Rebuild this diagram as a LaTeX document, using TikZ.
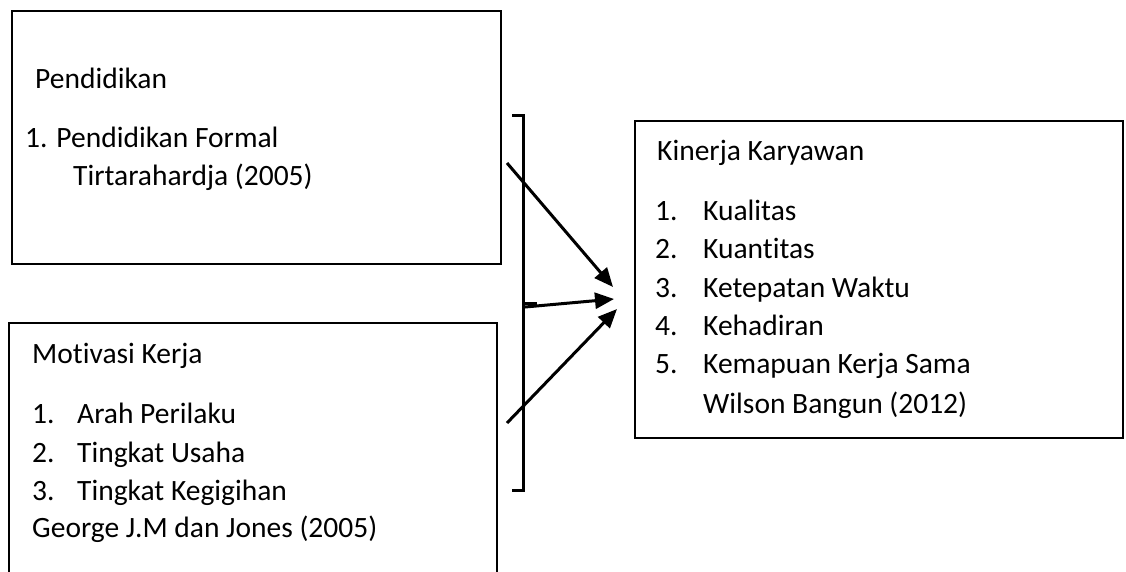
\documentclass[tikz,border=0pt]{standalone}
\usepackage{fontspec}
\setmainfont{Carlito}[Ligatures={NoCommon}]
\usetikzlibrary{arrows.meta}
\tikzset{
  box/.style={draw=black, line width=2.2pt, rectangle, inner sep=0pt},
  txt/.style={anchor=base west, inner sep=0pt, font=\fontsize{29.5}{38.5}\selectfont},
  conn/.style={line width=3pt, -{Triangle[length=19pt, width=16pt]}},
  brk/.style={line width=3pt}
}
\begin{document}
\begin{tikzpicture}[x=1pt, y=-1pt]
\clip (0,0) rectangle (1126,571);
\fill[white] (0,0) rectangle (1126,571);
% boxes
\node[box, minimum width=489pt, minimum height=253pt] (b1) at (256.5,137.5) {};
\node[box, minimum width=488pt, minimum height=290pt] (b2) at (253,468) {};
\node[box, minimum width=488pt, minimum height=317pt] (b3) at (879,279.5) {};
% box 1 text
\node[txt] (t11) at (35,88) {Pendidikan};
\node[txt] (t12) at (25,147) {1. Pendidikan Formal};
\node[txt] (t13) at (73,185) {Tirtarahardja (2005)};
% box 2 text
\node[txt] (t21) at (32,363) {Motivasi Kerja};
\node[txt] (n21) at (32,423) {1.};
\node[txt] (t22) at (77,423) {Arah Perilaku};
\node[txt] (n22) at (32,462) {2.};
\node[txt] (t23) at (77,462) {Tingkat Usaha};
\node[txt] (n23) at (32,500) {3.};
\node[txt] (t24) at (77,500) {Tingkat Kegigihan};
\node[txt] (t25) at (32,537) {George J.M dan Jones (2005)};
% box 3 text
\node[txt] (t31) at (657,160) {Kinerja Karyawan};
\node[txt] (n31) at (655,220) {1.};
\node[txt] (t32) at (703,220) {Kualitas};
\node[txt] (n32) at (655,258) {2.};
\node[txt] (t33) at (703,258) {Kuantitas};
\node[txt] (n33) at (655,297) {3.};
\node[txt] (t34) at (703,297) {Ketepatan Waktu};
\node[txt] (n34) at (655,335) {4.};
\node[txt] (t35) at (703,335) {Kehadiran};
\node[txt] (n35) at (655,373) {5.};
\node[txt] (t36) at (703,373) {Kemapuan Kerja Sama};
\node[txt] (t37) at (703,413) {Wilson Bangun (2012)};
% bracket
\coordinate (bt) at (512,115);
\coordinate (bb) at (512,490);
\coordinate (bm) at (523,303);
\coordinate (bmt) at (537,303);
\draw[brk] (bt) -- (523,115) -- (523,490) -- (bb);
\draw[brk] (bm) -- (bmt);
% arrows
\coordinate (a1s) at (507,163);
\coordinate (a1e) at (613,287);
\coordinate (a2s) at (525,307);
\coordinate (a2e) at (614,299);
\coordinate (a3s) at (507,423);
\coordinate (a3e) at (617,309);
\draw[conn] (a1s) -- (a1e);
\draw[conn] (a2s) -- (a2e);
\draw[conn] (a3s) -- (a3e);
\end{tikzpicture}
\end{document}
